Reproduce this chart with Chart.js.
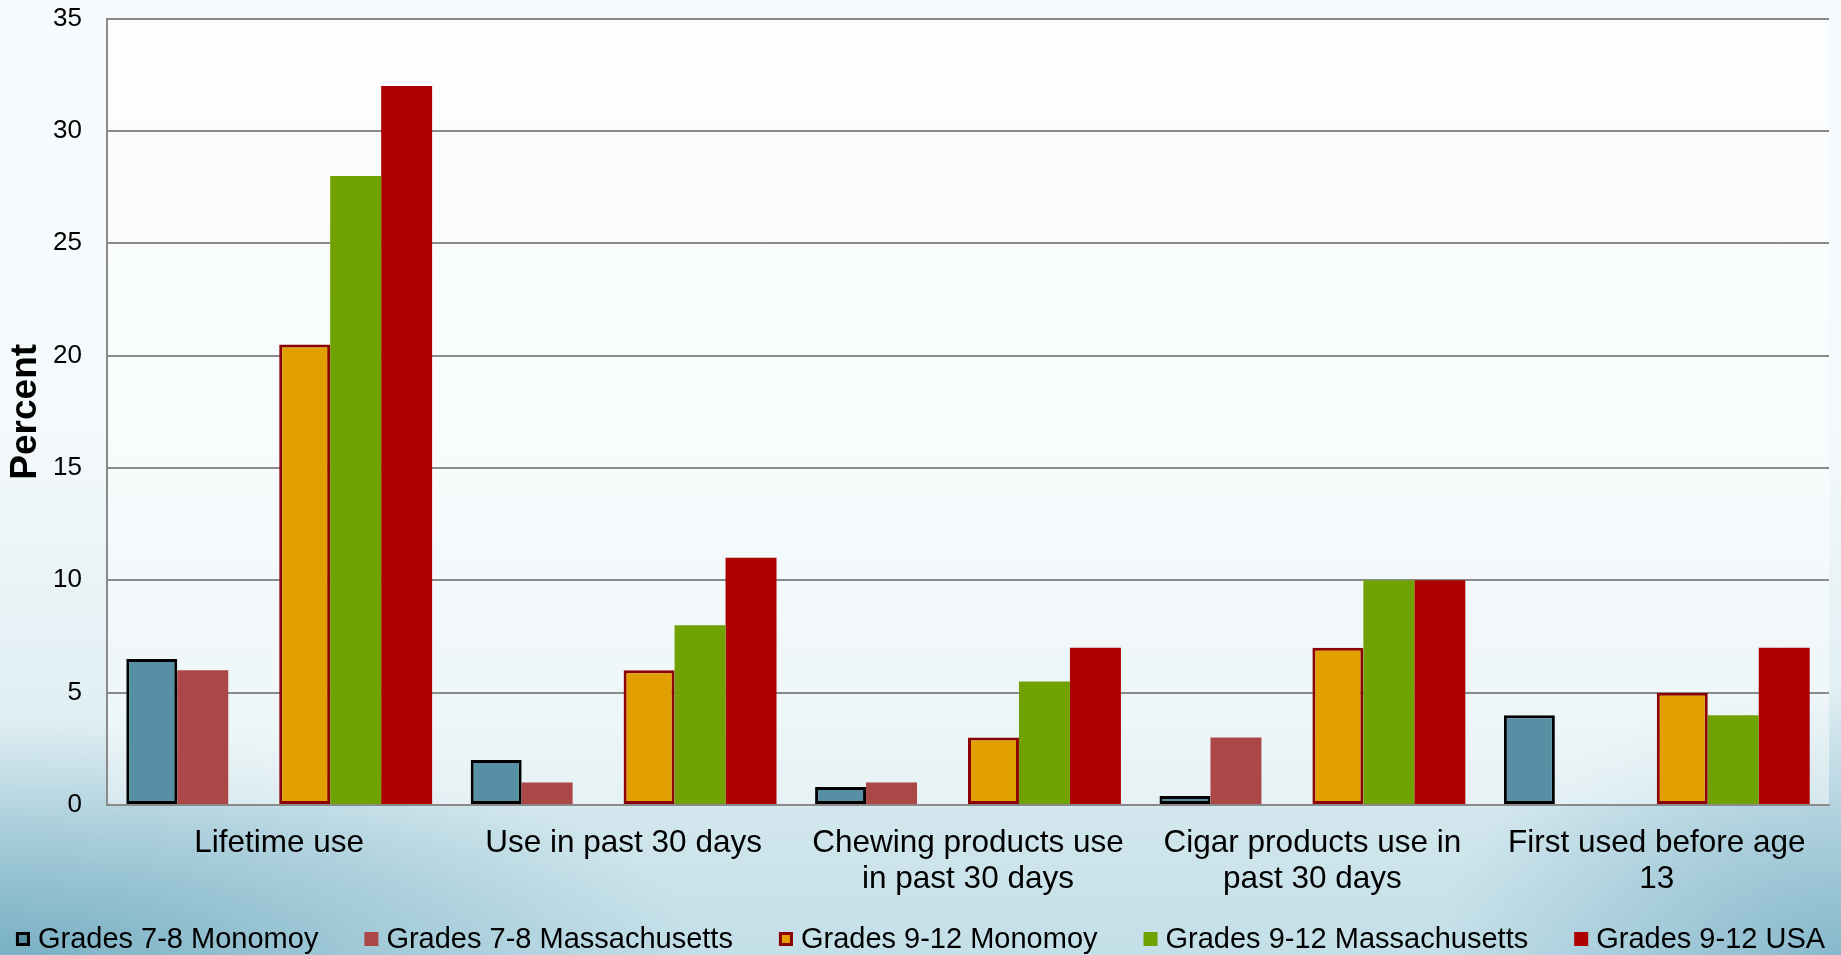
<!DOCTYPE html>
<html>
<head>
<meta charset="utf-8">
<script src="https://cdn.jsdelivr.net/npm/chart.js@4"></script>
<style>
  html, body { margin: 0; padding: 0; }
  body {
    width: 1841px; height: 955px; overflow: hidden;
    background:
      radial-gradient(ellipse 38% 24% at 0% 100%, rgba(96,160,184,0.75), rgba(96,160,184,0) 100%),
      radial-gradient(ellipse 22% 28% at 100% 100%, rgba(110,168,192,0.7), rgba(110,168,192,0) 100%),
      linear-gradient(to bottom, #f8fbfd 0%, #f4f9fb 45%, #e2f0f4 72%, #cfe5ec 88%, #c3dfe8 100%);
  }
  canvas { display: block; }
</style>
</head>
<body>
<canvas id="chart" width="1841" height="955"></canvas>
<script>
// Survey categories (x axis), wrapped as they appear under the axis
const categories = [
  ['Lifetime use'],
  ['Use in past 30 days'],
  ['Chewing products use', 'in past 30 days'],
  ['Cigar products use in', 'past 30 days'],
  ['First used before age', '13']
];

// Percent of students, per group
const grades78Monomoy = [6.5, 2, 0.8, 0.4, 4];
const grades78Massachusetts = [6, 1, 1, 3, null];
const grades912Monomoy = [20.5, 6, 3, 7, 5];
const grades912Massachusetts = [28, 8, 5.5, 10, 4];
const grades912USA = [32, 11, 7, 10, 7];

// Y axis ticks
const yTicks = [0, 5, 10, 15, 20, 25, 30, 35];

const seriesLabels = [
  'Grades 7-8 Monomoy',
  'Grades 7-8 Massachusetts',
  'Grades 9-12 Monomoy',
  'Grades 9-12 Massachusetts',
  'Grades 9-12 USA'
];

const FONT = '"Liberation Sans", Arial, Helvetica, sans-serif';

// Custom single-row legend along the bottom edge
const bottomLegend = {
  id: 'bottomLegend',
  afterDraw(chart) {
    const ctx = chart.ctx;
    const items = chart.data.datasets.filter(d => d.label);
    ctx.save();
    ctx.font = '29px ' + FONT;
    ctx.textBaseline = 'middle';
    ctx.textAlign = 'left';
    const box = 14, toText = 8, gap = 46;
    const widths = items.map(d => box + toText + ctx.measureText(d.label).width);
    const total = widths.reduce((a, b) => a + b, 0) + gap * (items.length - 1);
    let x = (chart.width - total) / 2;
    const cy = 939;
    items.forEach((d, i) => {
      ctx.fillStyle = d.backgroundColor;
      ctx.fillRect(x, cy - box / 2, box, box);
      if (d.borderWidth) {
        ctx.strokeStyle = d.borderColor;
        ctx.lineWidth = 3;
        ctx.strokeRect(x + 1.5, cy - box / 2 + 1.5, box - 3, box - 3);
      }
      ctx.fillStyle = '#000';
      ctx.fillText(d.label, x + box + toText, cy + 1);
      x += widths[i] + gap;
    });
    ctx.restore();
  }
};

// Soft white wash behind the plot area
const plotWash = {
  id: 'plotWash',
  beforeDraw(chart) {
    const {ctx, chartArea: a} = chart;
    ctx.save();
    ctx.fillStyle = 'rgba(255,255,255,0.45)';
    ctx.fillRect(a.left, a.top, a.right - a.left, a.bottom - a.top);
    ctx.restore();
  }
};

new Chart(document.getElementById('chart'), {
  type: 'bar',
  data: {
    labels: categories,
    datasets: [
      { label: seriesLabels[0], data: grades78Monomoy, backgroundColor: '#5790a5', borderColor: '#000000', borderWidth: 3, borderSkipped: false },
      { label: seriesLabels[1], data: grades78Massachusetts, backgroundColor: '#ab4747', borderWidth: 0 },
      { label: '', data: [null, null, null, null, null], backgroundColor: 'rgba(0,0,0,0)' },
      { label: seriesLabels[2], data: grades912Monomoy, backgroundColor: '#e19f00', borderColor: '#8b0000', borderWidth: 3, borderSkipped: false },
      { label: seriesLabels[3], data: grades912Massachusetts, backgroundColor: '#70a204', borderWidth: 0 },
      { label: seriesLabels[4], data: grades912USA, backgroundColor: '#ad0000', borderWidth: 0 }
    ]
  },
  options: {
    responsive: false,
    animation: false,
    events: [],
    layout: { padding: { left: 0, right: 12, top: 16, bottom: 0 } },
    datasets: { bar: { categoryPercentage: 0.888, barPercentage: 1.0, grouped: true } },
    plugins: {
      legend: { display: false },
      tooltip: { enabled: false }
    },
    scales: {
      x: {
        grid: { display: false, drawTicks: true, tickLength: 17, tickColor: 'rgba(0,0,0,0)' },
        border: { display: true, color: '#8a8a8a', width: 2 },
        ticks: {
          color: '#000',
          font: { family: FONT, size: 31.5, lineHeight: 1.16 },
          padding: 3,
          maxRotation: 0,
          minRotation: 0,
          autoSkip: false
        },
        afterFit(scale) { scale.height = 150; }
      },
      y: {
        min: 0,
        max: 35,
        afterBuildTicks(scale) { scale.ticks = yTicks.map(v => ({ value: v })); },
        grid: { color: '#8a8a8a', lineWidth: 2, drawTicks: true, tickLength: 22, tickColor: 'rgba(0,0,0,0)' },
        border: { display: true, color: '#8a8a8a', width: 2 },
        ticks: {
          color: '#000',
          font: { family: FONT, size: 26 },
          padding: 3
        },
        title: {
          display: true,
          text: 'Percent',
          color: '#000',
          font: { family: FONT, size: 37, weight: 'bold', lineHeight: 1.2 },
          padding: { top: 4, bottom: 0 }
        },
        afterFit(scale) { scale.width = 107; }
      }
    }
  },
  plugins: [plotWash, bottomLegend]
});
</script>
</body>
</html>
